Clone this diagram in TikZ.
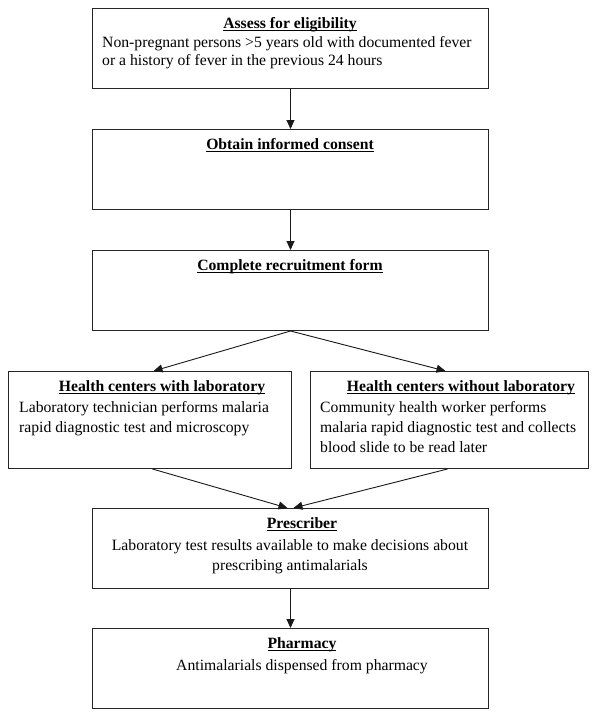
\documentclass[tikz,border=0pt]{standalone}
\usepackage{fontspec}
\setmainfont{Liberation Serif}
\usetikzlibrary{arrows.meta}
\newsavebox\myulbox
\newcommand{\myul}[1]{\sbox\myulbox{#1}\rlap{\rule[-3.2pt]{\wd\myulbox}{0.8pt}}\usebox\myulbox}
\begin{document}
\begin{tikzpicture}[x=1pt,y=-1pt,
  boxstyle/.style={draw=black!85,line width=1pt,rectangle,inner sep=0pt,anchor=north west},
  ttl/.style={font=\fontsize{15.7}{18}\selectfont\bfseries,inner sep=0pt,anchor=base},
  txtl/.style={font=\fontsize{15.7}{18}\selectfont,inner sep=0pt,anchor=base west},
  txtc/.style={font=\fontsize{15.7}{18}\selectfont,inner sep=0pt,anchor=base},
  arr/.style={draw=black!90,line width=0.9pt,-{Triangle[length=9pt,width=8pt]}}]
\useasboundingbox[fill=white] (0,0) rectangle (600,720);
% boxes
\node[boxstyle,minimum width=396pt,minimum height=80pt] (b1) at (92,8) {};
\node[boxstyle,minimum width=396pt,minimum height=80pt] (b2) at (92,129) {};
\node[boxstyle,minimum width=396pt,minimum height=80pt] (b3) at (92,250) {};
\node[boxstyle,minimum width=283pt,minimum height=97pt] (bl) at (8,371) {};
\node[boxstyle,minimum width=278pt,minimum height=97pt] (br) at (310,371) {};
\node[boxstyle,minimum width=396pt,minimum height=80pt] (b6) at (92,508) {};
\node[boxstyle,minimum width=396pt,minimum height=80pt] (b7) at (92,628) {};
% texts
\node[ttl] (t1) at (290,28) {\myul{Assess for eligibility}};
\node[txtl] (t1a) at (102,47.5) {Non-pregnant persons >5 years old with documented fever};
\node[txtl] (t1b) at (102,65) {or a history of fever in the previous 24 hours};
\node[ttl] (t2) at (290,149) {\myul{Obtain informed consent}};
\node[ttl] (t3) at (290,270) {\myul{Complete recruitment form}};
\node[ttl] (tl) at (162,391) {\myul{Health centers with laboratory}};
\node[txtl] (tla) at (19,412) {Laboratory technician performs malaria};
\node[txtl] (tlb) at (19,432) {rapid diagnostic test and microscopy};
\node[ttl] (tr) at (461,391) {\myul{Health centers without laboratory}};
\node[txtl] (tra) at (320,412) {Community health worker performs};
\node[txtl] (trb) at (320,432) {malaria rapid diagnostic test and collects};
\node[txtl] (trc) at (320,452) {blood slide to be read later};
\node[ttl] (t6) at (302,528) {\myul{Prescriber}};
\node[txtc] (t6a) at (290,550) {Laboratory test results available to make decisions about};
\node[txtc] (t6b) at (290,570) {prescribing antimalarials};
\node[ttl] (t7) at (302,648) {\myul{Pharmacy}};
\node[txtc] (t7a) at (302,670) {Antimalarials dispensed from pharmacy};
% connectors
\draw[arr] (b1.south) -- (b2.north);
\draw[arr] (b2.south) -- (b3.north);
\draw[arr] (b3.south) -- ([xshift=3.5pt]bl.north);
\draw[arr] (b3.south) -- ([xshift=-4pt]br.north);
\draw[arr] ([xshift=2.5pt]bl.south) -- ([xshift=-3pt]b6.north);
\draw[arr] ([xshift=-2pt]br.south) -- ([xshift=3pt]b6.north);
\draw[arr] (b6.south) -- (b7.north);
\end{tikzpicture}
\end{document}
